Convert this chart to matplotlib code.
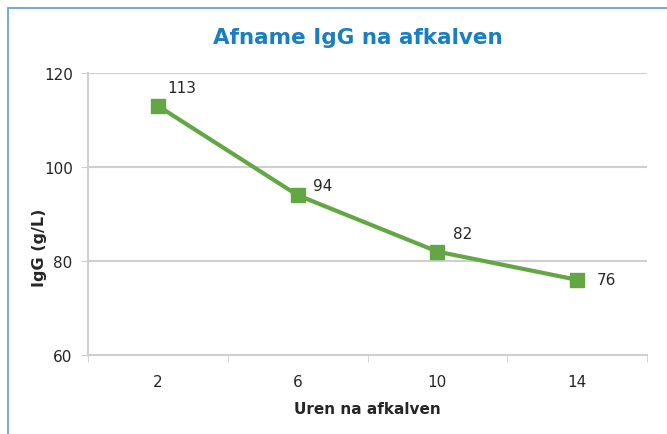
import matplotlib
matplotlib.use("Agg")
import matplotlib.pyplot as plt
from matplotlib.patches import Rectangle

# ---- data ----
hours = ["2", "6", "10", "14"]
igg = [113, 94, 82, 76]

# label offsets (points) as placed in the original
label_dx = [7, 11, 11, 14]
label_dy = [13, 7, 13, 0]

GREEN = "#62a744"
TITLE_BLUE = "#1a7fc1"
GRID = "#cfcfcf"
TEXT = "#262626"

plt.rcParams['font.family'] = ['DejaVu Sans']

fig = plt.figure(figsize=(6.67, 4.35), dpi=100)
ax = fig.add_axes([88 / 667, 1 - 356 / 435, (647 - 88) / 667, (356 - 74) / 435])

# outer chart frame (cropped at right/bottom)
fig.patches.append(Rectangle((8 / 667, -0.05), 1.0, 1 - 9 / 435 + 0.05,
                             transform=fig.transFigure, fill=False,
                             edgecolor="#5b9bd5", linewidth=1.2))

x = list(range(len(hours)))
ax.plot(x, igg, color=GREEN, linewidth=3, marker="s", markersize=10,
        markerfacecolor=GREEN, markeredgecolor=GREEN, zorder=3)

for xi, v, dx, dy in zip(x, igg, label_dx, label_dy):
    ax.annotate(str(v), (xi, v), xytext=(dx, dy), textcoords="offset points",
                fontsize=11, color=TEXT, ha="left", va="center")

ax.set_xlim(-0.5, len(hours) - 0.5)
ax.set_ylim(60, 120)
ax.set_yticks([60, 80, 100, 120])
ax.set_xticks(x)
ax.set_xticklabels(hours)
ax.set_xticks([i - 0.5 for i in range(len(hours) + 1)], minor=True)

ax.grid(axis="y", color=GRID, linewidth=1.5)
ax.set_axisbelow(True)
for s in ["top", "right"]:
    ax.spines[s].set_visible(False)
ax.spines["left"].set_color(GRID)
ax.spines["bottom"].set_color(GRID)
ax.spines["left"].set_linewidth(1.5)
ax.spines["bottom"].set_linewidth(1.5)

ax.tick_params(axis="y", length=5, color=GRID, labelsize=11, labelcolor=TEXT, pad=6)
ax.tick_params(axis="x", which="major", length=0, labelsize=11, labelcolor=TEXT, pad=14)
ax.tick_params(axis="x", which="minor", length=5, color=GRID)

ax.set_xlabel("Uren na afkalven", fontsize=11, fontweight="bold", color=TEXT, labelpad=8)
ax.set_ylabel("IgG (g/L)", fontsize=11.5, fontweight="bold", color=TEXT)
ax.yaxis.set_label_coords(-0.074, 0.383)

fig.text(358 / 667, 1 - 38 / 435, "Afname IgG na afkalven", fontsize=15.5,
         fontweight="bold", color=TITLE_BLUE, ha="center", va="center")

fig.savefig("out.png", dpi=100)
